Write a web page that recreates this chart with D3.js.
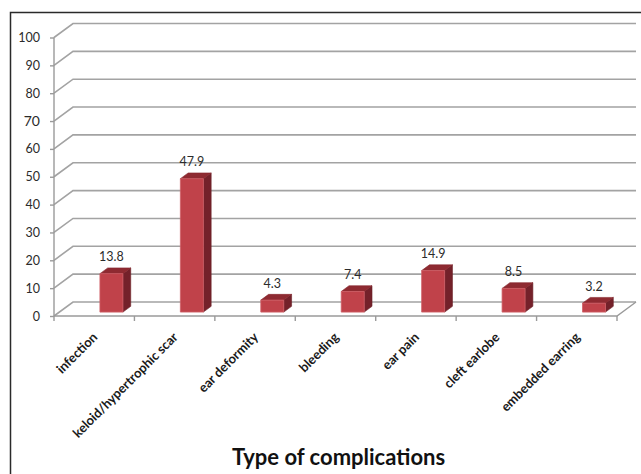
<!DOCTYPE html>
<html>
<head>
<meta charset="utf-8">
<script src="https://cdn.jsdelivr.net/npm/d3@7"></script>
<style>
  html, body { margin: 0; padding: 0; background: #fff; }
  svg { display: block; font-family: Lato, "Open Sans", sans-serif; }
</style>
</head>
<body>
<svg id="chart" width="641" height="474"></svg>
<script>
// Complication types and their percentages
const categories = ["infection", "keloid/hypertrophic scar", "ear deformity", "bleeding",
                    "ear pain", "cleft earlobe", "embedded earring"];
const values = [13.8, 47.9, 4.3, 7.4, 14.9, 8.5, 3.2];
const yTicks = [0, 10, 20, 30, 40, 50, 60, 70, 80, 90, 100];
const axisTitle = "Type of complications";

const svg = d3.select("#chart");

// Oblique 3D projection: full depth of the plot box moves a point by (dx, dy)
const depth = { dx: 19, dy: -14 };
const proj = (x, y, t) => [x + depth.dx * t, y + depth.dy * t];

const x = d3.scaleBand().domain(categories).range([54, 617]).paddingInner(0).paddingOuter(0);
const y = d3.scaleLinear().domain([0, 100]).range([316, 37.5]);

// Outer frame
svg.append("rect")
  .attr("x", 10.5).attr("y", 12.5)
  .attr("width", 700).attr("height", 500)
  .attr("fill", "none").attr("stroke", "#2a2a2a").attr("stroke-width", 1.5);

const grid = svg.append("g").attr("fill", "none");
const xEnd = x.range()[1];
const backRight = proj(xEnd, 0, 1)[0];

// Back wall gridlines with their diagonal side-wall segments
yTicks.forEach(v => {
  const p0 = [x.range()[0], y(v)];
  const p1 = proj(p0[0], p0[1], 1);
  grid.append("path")
    .attr("d", d3.line()([p0, p1, [backRight, p1[1]]]))
    .attr("stroke", "#a3a3a3").attr("stroke-width", 1.6);
});

// Floor: front edge and right diagonal
const fy = y(0);
grid.append("path")
  .attr("d", d3.line()([[x.range()[0], fy], [xEnd, fy], proj(xEnd, fy, 1)]))
  .attr("stroke", "#9a9a9a").attr("stroke-width", 1.4);

// Value axis line and ticks
grid.append("path")
  .attr("d", d3.line()([[x.range()[0], y(0)], [x.range()[0], y(100)]]))
  .attr("stroke", "#9a9a9a").attr("stroke-width", 1.4);

const yAxis = d3.axisLeft(y).tickValues(yTicks).tickSize(4).tickPadding(10);
const gy = svg.append("g").attr("transform", `translate(${x.range()[0]},0)`).call(yAxis);
gy.select(".domain").remove();
gy.selectAll(".tick line").attr("stroke", "#9a9a9a").attr("stroke-width", 1.4);
gy.selectAll(".tick text")
  .attr("fill", "#2b2b2b")
  .style("font-size", d => d === 70 ? "14px" : "12.5px")
  .style("font-family", "Lato, sans-serif");

// Category axis ticks at band boundaries
const bounds = categories.map(c => x(c)).concat([xEnd]);
svg.append("g").selectAll("line").data(bounds).join("line")
  .attr("x1", d => d).attr("x2", d => d)
  .attr("y1", fy).attr("y2", fy + 5)
  .attr("stroke", "#9a9a9a").attr("stroke-width", 1.4);

// Rotated category labels
svg.append("g").selectAll("text").data(categories).join("text")
  .attr("transform", d => `translate(${x(d) + x.bandwidth() / 2 + 4},${fy + 22}) rotate(-45)`)
  .attr("text-anchor", "end")
  .attr("fill", "#1a1a1a")
  .style("font-size", "13px")
  .style("font-weight", "bold")
  .text(d => d);

// 3D columns
const t0 = 0.28, t1 = 0.69;
const barOff = 0.505, barW = 0.286;
const bars = svg.append("g").selectAll("g").data(categories.map((c, i) => ({ c, v: values[i] }))).join("g");

bars.each(function(d) {
  const g = d3.select(this);
  const xl = x(d.c) + x.bandwidth() * barOff;
  const xr = xl + x.bandwidth() * barW;
  const yb = y(0), yt = y(d.v);
  const A = proj(xl, yt, t0), B = proj(xr, yt, t0), C = proj(xr, yb, t0), D = proj(xl, yb, t0);
  const B2 = proj(xr, yt, t1), C2 = proj(xr, yb, t1), A2 = proj(xl, yt, t1);
  // right side
  g.append("path").attr("d", d3.line()([B, B2, C2, C, B]) )
    .attr("fill", "#74212a").attr("stroke", "#6a1e25").attr("stroke-width", 0.6);
  // top
  g.append("path").attr("d", d3.line()([A, A2, B2, B, A]))
    .attr("fill", "#8e2a31").attr("stroke", "#86262d").attr("stroke-width", 0.6);
  // front
  g.append("path").attr("d", d3.line()([A, B, C, D, A]))
    .attr("fill", "#c0424a").attr("stroke", "#cf6067").attr("stroke-width", 0.8);
  // value label
  g.append("text")
    .attr("x", (A[0] + B[0]) / 2)
    .attr("y", A2[1] - 6.5)
    .attr("text-anchor", "middle")
    .attr("fill", "#2b2b2b")
    .style("font-size", "12.5px")
    .text(d.v);
});

// Axis title
svg.append("text")
  .attr("x", 338.5).attr("y", 465)
  .attr("text-anchor", "middle")
  .attr("fill", "#111")
  .style("font-size", "22px")
  .style("font-weight", "bold")
  .text(axisTitle);
</script>
</body>
</html>
